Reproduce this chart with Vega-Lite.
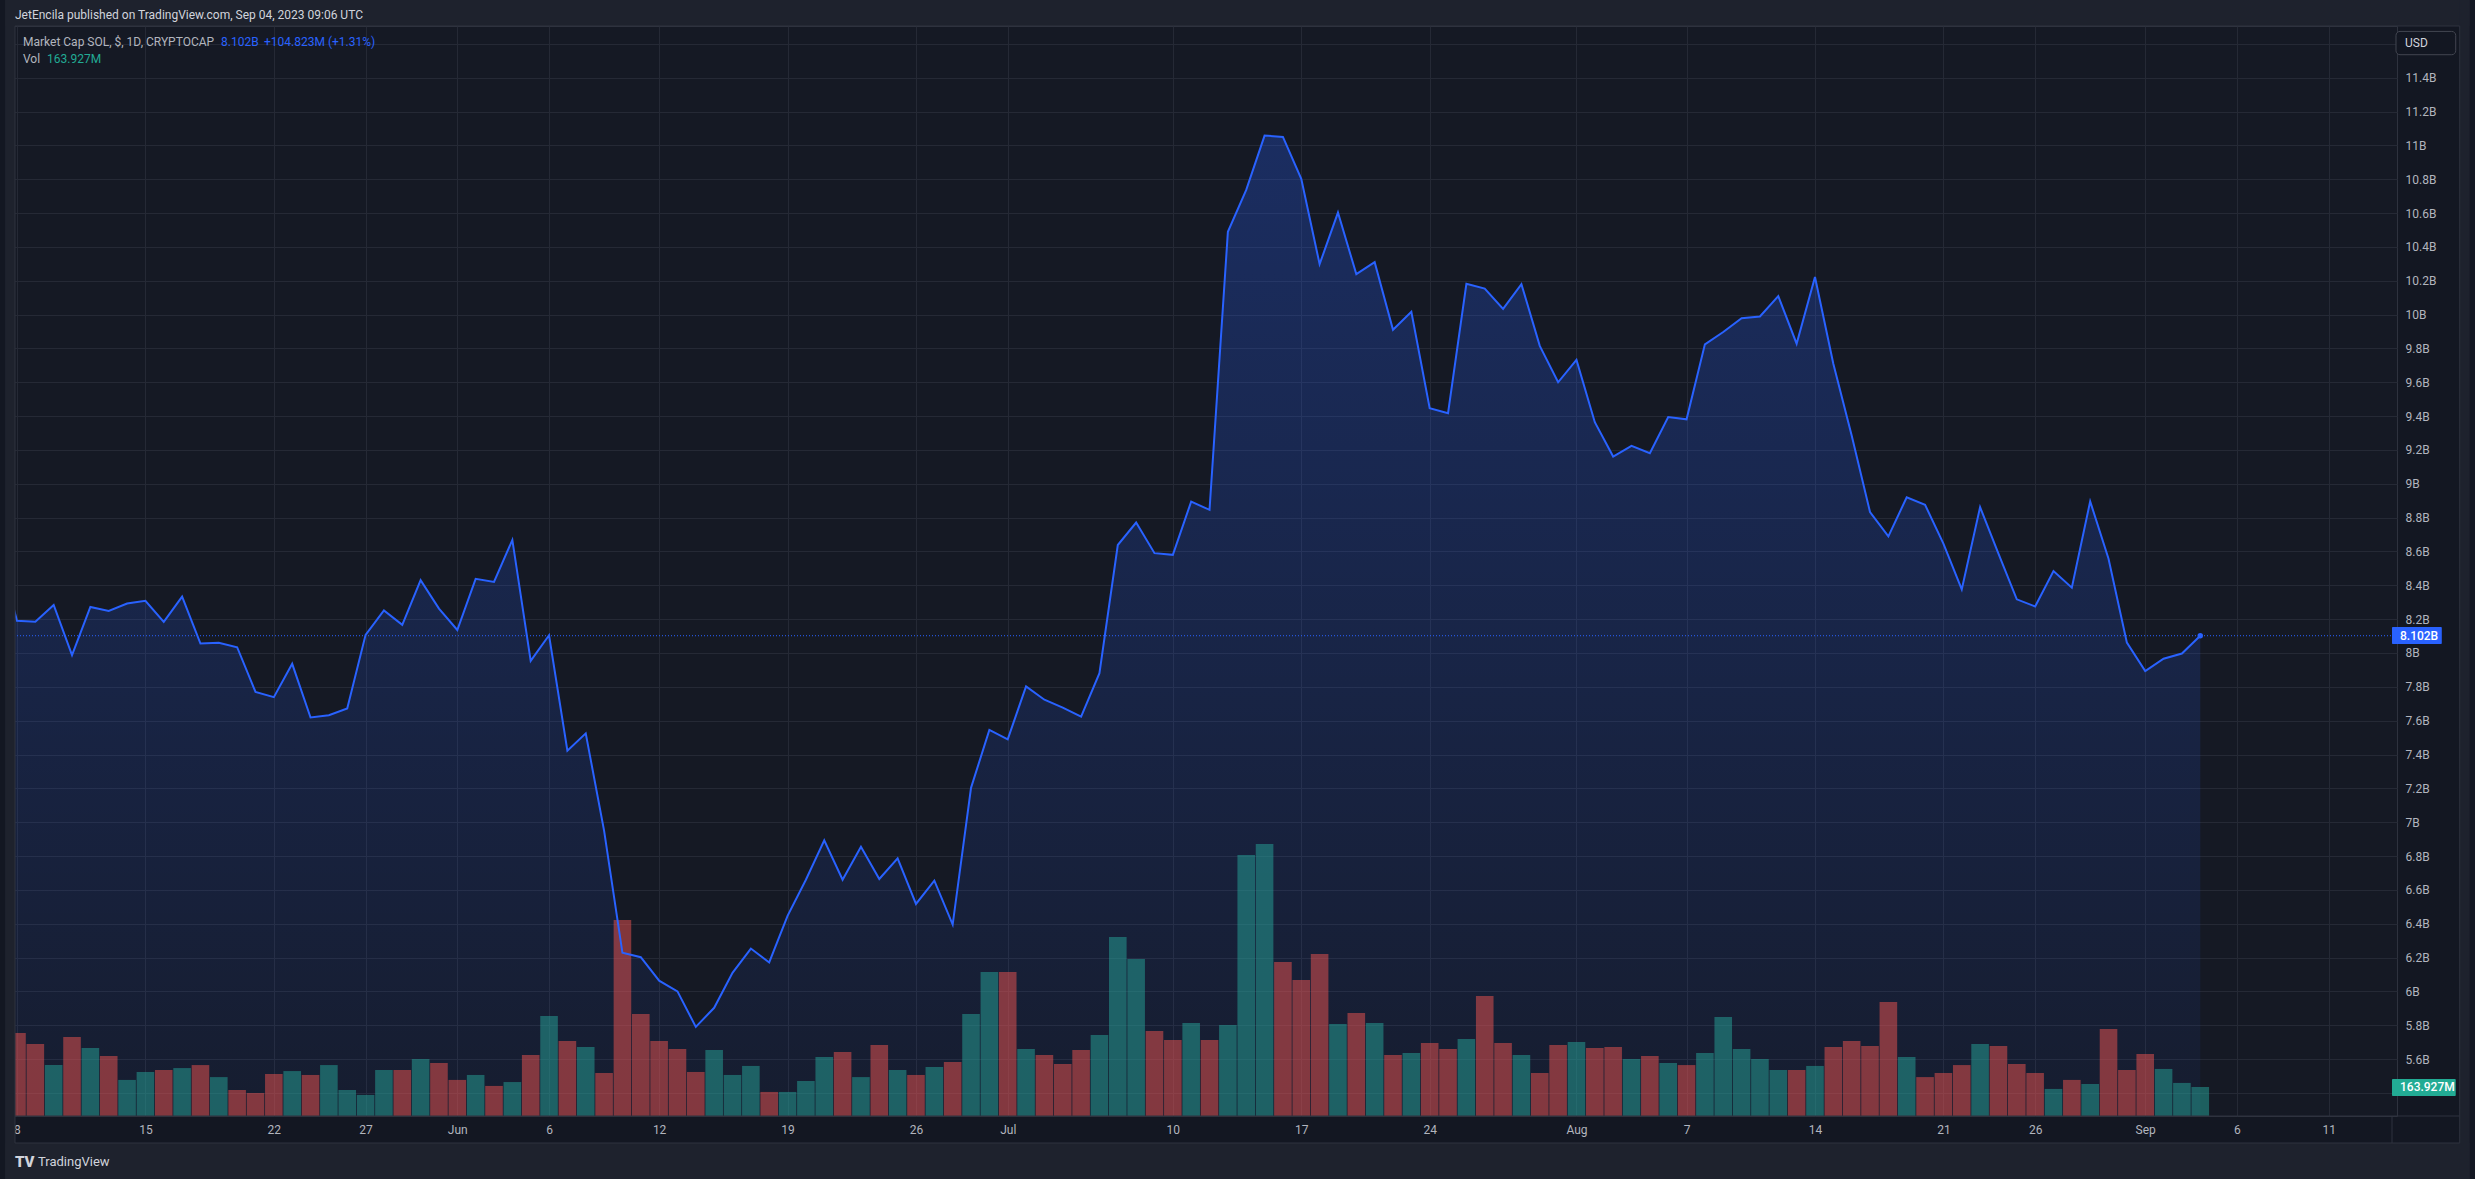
{
  "$schema": "https://vega.github.io/schema/vega-lite/v6.json",
  "width": 2387,
  "height": 1090,
  "autosize": "none",
  "padding": {"left": 10, "top": 26, "right": 78, "bottom": 63},
  "background": "#131722",
  "config": {
    "font": "Roboto",
    "view": {"fill": "#151924", "stroke": "#2e323e", "strokeWidth": 1}
  },
  "data": {
    "values": [
      {"date": "2023-05-07", "mc": 8.6, "vol": 400, "dir": "down"},
      {"date": "2023-05-08", "mc": 8.19, "vol": 469, "dir": "down"},
      {"date": "2023-05-09", "mc": 8.184, "vol": 407, "dir": "down"},
      {"date": "2023-05-10", "mc": 8.284, "vol": 288, "dir": "up"},
      {"date": "2023-05-11", "mc": 7.987, "vol": 447, "dir": "down"},
      {"date": "2023-05-12", "mc": 8.272, "vol": 384, "dir": "up"},
      {"date": "2023-05-13", "mc": 8.249, "vol": 339, "dir": "down"},
      {"date": "2023-05-14", "mc": 8.292, "vol": 204, "dir": "up"},
      {"date": "2023-05-15", "mc": 8.308, "vol": 249, "dir": "up"},
      {"date": "2023-05-16", "mc": 8.184, "vol": 260, "dir": "down"},
      {"date": "2023-05-17", "mc": 8.333, "vol": 271, "dir": "up"},
      {"date": "2023-05-18", "mc": 8.056, "vol": 288, "dir": "down"},
      {"date": "2023-05-19", "mc": 8.06, "vol": 220, "dir": "up"},
      {"date": "2023-05-20", "mc": 8.034, "vol": 147, "dir": "down"},
      {"date": "2023-05-21", "mc": 7.77, "vol": 130, "dir": "down"},
      {"date": "2023-05-22", "mc": 7.739, "vol": 237, "dir": "down"},
      {"date": "2023-05-23", "mc": 7.936, "vol": 254, "dir": "up"},
      {"date": "2023-05-24", "mc": 7.619, "vol": 232, "dir": "down"},
      {"date": "2023-05-25", "mc": 7.632, "vol": 288, "dir": "up"},
      {"date": "2023-05-26", "mc": 7.672, "vol": 147, "dir": "up"},
      {"date": "2023-05-27", "mc": 8.107, "vol": 119, "dir": "up"},
      {"date": "2023-05-28", "mc": 8.251, "vol": 260, "dir": "up"},
      {"date": "2023-05-29", "mc": 8.166, "vol": 260, "dir": "down"},
      {"date": "2023-05-30", "mc": 8.43, "vol": 322, "dir": "up"},
      {"date": "2023-05-31", "mc": 8.262, "vol": 300, "dir": "down"},
      {"date": "2023-06-01", "mc": 8.136, "vol": 204, "dir": "down"},
      {"date": "2023-06-02", "mc": 8.438, "vol": 232, "dir": "up"},
      {"date": "2023-06-03", "mc": 8.42, "vol": 170, "dir": "down"},
      {"date": "2023-06-04", "mc": 8.668, "vol": 192, "dir": "up"},
      {"date": "2023-06-05", "mc": 7.953, "vol": 345, "dir": "down"},
      {"date": "2023-06-06", "mc": 8.105, "vol": 565, "dir": "up"},
      {"date": "2023-06-07", "mc": 7.423, "vol": 424, "dir": "down"},
      {"date": "2023-06-08", "mc": 7.525, "vol": 390, "dir": "up"},
      {"date": "2023-06-09", "mc": 6.95, "vol": 243, "dir": "down"},
      {"date": "2023-06-10", "mc": 6.228, "vol": 1108, "dir": "down"},
      {"date": "2023-06-11", "mc": 6.202, "vol": 577, "dir": "down"},
      {"date": "2023-06-12", "mc": 6.063, "vol": 424, "dir": "down"},
      {"date": "2023-06-13", "mc": 6.0, "vol": 379, "dir": "down"},
      {"date": "2023-06-14", "mc": 5.79, "vol": 249, "dir": "down"},
      {"date": "2023-06-15", "mc": 5.903, "vol": 373, "dir": "up"},
      {"date": "2023-06-16", "mc": 6.11, "vol": 232, "dir": "up"},
      {"date": "2023-06-17", "mc": 6.253, "vol": 283, "dir": "up"},
      {"date": "2023-06-18", "mc": 6.171, "vol": 136, "dir": "down"},
      {"date": "2023-06-19", "mc": 6.446, "vol": 136, "dir": "up"},
      {"date": "2023-06-20", "mc": 6.66, "vol": 198, "dir": "up"},
      {"date": "2023-06-21", "mc": 6.893, "vol": 334, "dir": "up"},
      {"date": "2023-06-22", "mc": 6.66, "vol": 362, "dir": "down"},
      {"date": "2023-06-23", "mc": 6.855, "vol": 220, "dir": "up"},
      {"date": "2023-06-24", "mc": 6.664, "vol": 401, "dir": "down"},
      {"date": "2023-06-25", "mc": 6.786, "vol": 260, "dir": "up"},
      {"date": "2023-06-26", "mc": 6.517, "vol": 232, "dir": "down"},
      {"date": "2023-06-27", "mc": 6.654, "vol": 277, "dir": "up"},
      {"date": "2023-06-28", "mc": 6.395, "vol": 305, "dir": "down"},
      {"date": "2023-06-29", "mc": 7.203, "vol": 577, "dir": "up"},
      {"date": "2023-06-30", "mc": 7.545, "vol": 814, "dir": "up"},
      {"date": "2023-07-01", "mc": 7.49, "vol": 814, "dir": "down"},
      {"date": "2023-07-02", "mc": 7.803, "vol": 379, "dir": "up"},
      {"date": "2023-07-03", "mc": 7.724, "vol": 345, "dir": "down"},
      {"date": "2023-07-04", "mc": 7.677, "vol": 294, "dir": "down"},
      {"date": "2023-07-05", "mc": 7.624, "vol": 373, "dir": "down"},
      {"date": "2023-07-06", "mc": 7.881, "vol": 458, "dir": "up"},
      {"date": "2023-07-07", "mc": 8.638, "vol": 1012, "dir": "up"},
      {"date": "2023-07-08", "mc": 8.771, "vol": 888, "dir": "up"},
      {"date": "2023-07-09", "mc": 8.59, "vol": 480, "dir": "down"},
      {"date": "2023-07-10", "mc": 8.58, "vol": 430, "dir": "down"},
      {"date": "2023-07-11", "mc": 8.895, "vol": 526, "dir": "up"},
      {"date": "2023-07-12", "mc": 8.846, "vol": 430, "dir": "down"},
      {"date": "2023-07-13", "mc": 10.489, "vol": 514, "dir": "up"},
      {"date": "2023-07-14", "mc": 10.737, "vol": 1475, "dir": "up"},
      {"date": "2023-07-15", "mc": 11.058, "vol": 1538, "dir": "up"},
      {"date": "2023-07-16", "mc": 11.05, "vol": 871, "dir": "down"},
      {"date": "2023-07-17", "mc": 10.802, "vol": 769, "dir": "down"},
      {"date": "2023-07-18", "mc": 10.298, "vol": 916, "dir": "down"},
      {"date": "2023-07-19", "mc": 10.603, "vol": 520, "dir": "up"},
      {"date": "2023-07-20", "mc": 10.239, "vol": 582, "dir": "down"},
      {"date": "2023-07-21", "mc": 10.31, "vol": 526, "dir": "up"},
      {"date": "2023-07-22", "mc": 9.91, "vol": 345, "dir": "down"},
      {"date": "2023-07-23", "mc": 10.016, "vol": 356, "dir": "up"},
      {"date": "2023-07-24", "mc": 9.447, "vol": 413, "dir": "down"},
      {"date": "2023-07-25", "mc": 9.417, "vol": 379, "dir": "down"},
      {"date": "2023-07-26", "mc": 10.182, "vol": 435, "dir": "up"},
      {"date": "2023-07-27", "mc": 10.154, "vol": 678, "dir": "down"},
      {"date": "2023-07-28", "mc": 10.034, "vol": 413, "dir": "down"},
      {"date": "2023-07-29", "mc": 10.18, "vol": 345, "dir": "up"},
      {"date": "2023-07-30", "mc": 9.815, "vol": 243, "dir": "down"},
      {"date": "2023-07-31", "mc": 9.6, "vol": 401, "dir": "down"},
      {"date": "2023-08-01", "mc": 9.732, "vol": 418, "dir": "up"},
      {"date": "2023-08-02", "mc": 9.364, "vol": 384, "dir": "down"},
      {"date": "2023-08-03", "mc": 9.161, "vol": 390, "dir": "down"},
      {"date": "2023-08-04", "mc": 9.224, "vol": 322, "dir": "up"},
      {"date": "2023-08-05", "mc": 9.181, "vol": 339, "dir": "down"},
      {"date": "2023-08-06", "mc": 9.394, "vol": 300, "dir": "up"},
      {"date": "2023-08-07", "mc": 9.381, "vol": 288, "dir": "down"},
      {"date": "2023-08-08", "mc": 9.824, "vol": 356, "dir": "up"},
      {"date": "2023-08-09", "mc": 9.897, "vol": 560, "dir": "up"},
      {"date": "2023-08-10", "mc": 9.979, "vol": 379, "dir": "up"},
      {"date": "2023-08-11", "mc": 9.989, "vol": 322, "dir": "up"},
      {"date": "2023-08-12", "mc": 10.109, "vol": 260, "dir": "up"},
      {"date": "2023-08-13", "mc": 9.828, "vol": 260, "dir": "down"},
      {"date": "2023-08-14", "mc": 10.222, "vol": 283, "dir": "up"},
      {"date": "2023-08-15", "mc": 9.709, "vol": 390, "dir": "down"},
      {"date": "2023-08-16", "mc": 9.286, "vol": 424, "dir": "down"},
      {"date": "2023-08-17", "mc": 8.833, "vol": 396, "dir": "down"},
      {"date": "2023-08-18", "mc": 8.689, "vol": 644, "dir": "down"},
      {"date": "2023-08-19", "mc": 8.92, "vol": 334, "dir": "up"},
      {"date": "2023-08-20", "mc": 8.876, "vol": 220, "dir": "down"},
      {"date": "2023-08-21", "mc": 8.646, "vol": 243, "dir": "down"},
      {"date": "2023-08-22", "mc": 8.376, "vol": 288, "dir": "down"},
      {"date": "2023-08-23", "mc": 8.862, "vol": 407, "dir": "up"},
      {"date": "2023-08-24", "mc": 8.587, "vol": 396, "dir": "down"},
      {"date": "2023-08-25", "mc": 8.317, "vol": 294, "dir": "down"},
      {"date": "2023-08-26", "mc": 8.275, "vol": 243, "dir": "down"},
      {"date": "2023-08-27", "mc": 8.484, "vol": 153, "dir": "up"},
      {"date": "2023-08-28", "mc": 8.386, "vol": 204, "dir": "down"},
      {"date": "2023-08-29", "mc": 8.896, "vol": 181, "dir": "up"},
      {"date": "2023-08-30", "mc": 8.557, "vol": 492, "dir": "down"},
      {"date": "2023-08-31", "mc": 8.061, "vol": 260, "dir": "down"},
      {"date": "2023-09-01", "mc": 7.893, "vol": 350, "dir": "down"},
      {"date": "2023-09-02", "mc": 7.966, "vol": 266, "dir": "up"},
      {"date": "2023-09-03", "mc": 7.997, "vol": 187, "dir": "up"},
      {"date": "2023-09-04", "mc": 8.102, "vol": 163.927, "dir": "up"}
    ]
  },
  "layer": [
    {
      "mark": {
        "type": "area",
        "clip": true,
        "color": {
          "gradient": "linear",
          "x1": 0, "y1": 0, "x2": 0, "y2": 1,
          "stops": [
            {"offset": 0, "color": "rgba(41,98,255,0.28)"},
            {"offset": 1, "color": "rgba(41,98,255,0.05)"}
          ]
        }
      },
      "encoding": {
        "x": {
          "field": "date",
          "type": "temporal",
          "scale": {
            "type": "utc",
            "nice": false,
            "domain": [
              {"year": 2023, "month": 5, "date": 7, "hours": 21, "minutes": 24, "utc": true},
              {"year": 2023, "month": 9, "date": 14, "hours": 10, "minutes": 49, "utc": true}
            ]
          },
          "axis": {
            "title": null,
            "orient": "bottom",
            "domain": false,
            "ticks": false,
            "grid": true,
            "gridColor": "#252935",
            "gridWidth": 1,
            "labelColor": "#b2b5be",
            "labelFont": "Roboto",
            "labelFontSize": 12,
            "labelPadding": 8,
            "labelFlush": false,
            "labelOverlap": false,
            "values": [
              {"year": 2023, "month": 5, "date": 8, "utc": true},
              {"year": 2023, "month": 5, "date": 15, "utc": true},
              {"year": 2023, "month": 5, "date": 22, "utc": true},
              {"year": 2023, "month": 5, "date": 27, "utc": true},
              {"year": 2023, "month": 6, "date": 1, "utc": true},
              {"year": 2023, "month": 6, "date": 6, "utc": true},
              {"year": 2023, "month": 6, "date": 12, "utc": true},
              {"year": 2023, "month": 6, "date": 19, "utc": true},
              {"year": 2023, "month": 6, "date": 26, "utc": true},
              {"year": 2023, "month": 7, "date": 1, "utc": true},
              {"year": 2023, "month": 7, "date": 10, "utc": true},
              {"year": 2023, "month": 7, "date": 17, "utc": true},
              {"year": 2023, "month": 7, "date": 24, "utc": true},
              {"year": 2023, "month": 8, "date": 1, "utc": true},
              {"year": 2023, "month": 8, "date": 7, "utc": true},
              {"year": 2023, "month": 8, "date": 14, "utc": true},
              {"year": 2023, "month": 8, "date": 21, "utc": true},
              {"year": 2023, "month": 8, "date": 26, "utc": true},
              {"year": 2023, "month": 9, "date": 1, "utc": true},
              {"year": 2023, "month": 9, "date": 6, "utc": true},
              {"year": 2023, "month": 9, "date": 11, "utc": true}
            ],
            "labelExpr": "utcdate(datum.value) === 1 ? utcFormat(datum.value, '%b') : utcFormat(datum.value, '%-d')"
          }
        },
        "y": {
          "field": "mc",
          "type": "quantitative",
          "scale": {"domain": [5.2635, 11.7056], "nice": false, "zero": false},
          "axis": {
            "orient": "right",
            "title": null,
            "domain": false,
            "ticks": false,
            "grid": true,
            "gridColor": "#252935",
            "gridWidth": 1,
            "labelColor": "#b2b5be",
            "labelFont": "Roboto",
            "labelFontSize": 12,
            "labelPadding": 8,
            "labelFlush": false,
            "labelOverlap": false,
            "labelBaseline": "middle",
            "values": [5.4, 5.6, 5.8, 6, 6.2, 6.4, 6.6, 6.8, 7, 7.2, 7.4, 7.6, 7.8, 8, 8.2, 8.4, 8.6, 8.8, 9, 9.2, 9.4, 9.6, 9.8, 10, 10.2, 10.4, 10.6, 10.8, 11, 11.2, 11.4, 11.6],
            "labelExpr": "datum.value < 5.5 || datum.value > 11.5 ? '' : replace(format(datum.value, '.1f'), '.0', '') + 'B'"
          }
        },
        "y2": {"datum": 5.2635}
      }
    },
    {
      "layer": [
        {
          "mark": {"type": "bar", "size": 17.6, "clip": true},
          "encoding": {
            "x": {"field": "date", "type": "temporal"},
            "y": {
              "field": "vol",
              "type": "quantitative",
              "scale": {"domain": [0, 6162], "nice": false, "zero": true},
              "axis": null
            },
            "color": {
              "field": "dir",
              "type": "nominal",
              "scale": {"domain": ["up", "down"], "range": ["rgba(38,166,154,0.5)", "rgba(239,83,80,0.5)"]},
              "legend": null
            }
          }
        },
        {
          "data": {"values": [{}]},
          "mark": {"type": "rect", "color": "#22ab94", "clip": false, "cornerRadius": 1},
          "encoding": {
            "x": {"datum": {"year": 2023, "month": 9, "date": 14, "hours": 10, "minutes": 49, "utc": true}, "type": "temporal"},
            "x2": {"datum": {"year": 2023, "month": 9, "date": 17, "hours": 22, "minutes": 11, "utc": true}},
            "y": {"datum": 209, "type": "quantitative", "axis": null},
            "y2": {"datum": 113}
          }
        },
        {
          "data": {"values": [{}]},
          "mark": {"type": "text", "text": "163.927M", "color": "#ffffff", "font": "Roboto", "fontSize": 12, "fontWeight": 500, "align": "left", "baseline": "middle", "dx": 8, "clip": false},
          "encoding": {
            "x": {"datum": {"year": 2023, "month": 9, "date": 14, "hours": 10, "minutes": 49, "utc": true}, "type": "temporal"},
            "y": {"datum": 163.927, "type": "quantitative", "axis": null}
          }
        }
      ]
    },
    {
      "layer": [
        {
          "data": {"values": [{}]},
          "mark": {"type": "rule", "color": "#2962ff", "strokeDash": [1, 2], "strokeWidth": 1},
          "encoding": {
            "y": {"datum": 8.102, "type": "quantitative", "axis": null}
          }
        },
        {
          "mark": {"type": "line", "color": "#2962ff", "strokeWidth": 2, "clip": true},
          "encoding": {
            "x": {"field": "date", "type": "temporal"},
            "y": {
              "field": "mc",
              "type": "quantitative",
              "scale": {"domain": [5.2635, 11.7056], "nice": false, "zero": false},
              "axis": null
            }
          }
        },
        {
          "data": {"values": [{"date": "2023-09-04", "mc": 8.102}]},
          "mark": {"type": "circle", "color": "#2962ff", "size": 30, "opacity": 1},
          "encoding": {
            "x": {"field": "date", "type": "temporal"},
            "y": {"field": "mc", "type": "quantitative", "axis": null}
          }
        },
        {
          "data": {"values": [{}]},
          "mark": {"type": "rect", "color": "#2962ff", "clip": false, "cornerRadius": 1},
          "encoding": {
            "x": {"datum": {"year": 2023, "month": 9, "date": 14, "hours": 10, "minutes": 49, "utc": true}, "type": "temporal"},
            "x2": {"datum": {"year": 2023, "month": 9, "date": 17, "hours": 3, "minutes": 57, "utc": true}},
            "y": {"datum": 8.1535, "type": "quantitative", "axis": null},
            "y2": {"datum": 8.0531}
          }
        },
        {
          "data": {"values": [{}]},
          "mark": {"type": "text", "text": "8.102B", "color": "#ffffff", "font": "Roboto", "fontSize": 12, "fontWeight": 500, "align": "left", "baseline": "middle", "dx": 8, "clip": false},
          "encoding": {
            "x": {"datum": {"year": 2023, "month": 9, "date": 14, "hours": 10, "minutes": 49, "utc": true}, "type": "temporal"},
            "y": {"datum": 8.102, "type": "quantitative", "axis": null}
          }
        },
        {
          "data": {"values": [{}]},
          "mark": {"type": "rect", "color": "#1e222d", "clip": false},
          "encoding": {
            "x": {"datum": {"year": 2023, "month": 5, "date": 7, "hours": 8, "minutes": 22, "utc": true}, "type": "temporal"},
            "x2": {"datum": {"year": 2023, "month": 9, "date": 18, "hours": 16, "minutes": 25, "utc": true}},
            "y": {"datum": 11.8592, "type": "quantitative", "axis": null},
            "y2": {"datum": 11.7056}
          }
        },
        {
          "data": {"values": [{}]},
          "mark": {"type": "rect", "color": "#1e222d", "clip": false},
          "encoding": {
            "x": {"datum": {"year": 2023, "month": 5, "date": 7, "hours": 8, "minutes": 22, "utc": true}, "type": "temporal"},
            "x2": {"datum": {"year": 2023, "month": 5, "date": 7, "hours": 21, "minutes": 24, "utc": true}},
            "y": {"datum": 11.8592, "type": "quantitative", "axis": null},
            "y2": {"datum": 4.8911}
          }
        },
        {
          "data": {"values": [{}]},
          "mark": {"type": "rect", "color": "#1e222d", "clip": false},
          "encoding": {
            "x": {"datum": {"year": 2023, "month": 9, "date": 18, "hours": 3, "minutes": 24, "utc": true}, "type": "temporal"},
            "x2": {"datum": {"year": 2023, "month": 9, "date": 18, "hours": 16, "minutes": 25, "utc": true}},
            "y": {"datum": 11.8592, "type": "quantitative", "axis": null},
            "y2": {"datum": 4.8911}
          }
        },
        {
          "data": {"values": [{}]},
          "mark": {"type": "rect", "color": "#1e222d", "clip": false},
          "encoding": {
            "x": {"datum": {"year": 2023, "month": 5, "date": 7, "hours": 8, "minutes": 22, "utc": true}, "type": "temporal"},
            "x2": {"datum": {"year": 2023, "month": 9, "date": 18, "hours": 16, "minutes": 25, "utc": true}},
            "y": {"datum": 5.1039, "type": "quantitative", "axis": null},
            "y2": {"datum": 4.8911}
          }
        },
        {
          "data": {"values": [{}]},
          "mark": {"type": "rect", "fillOpacity": 0, "stroke": "#2e323e", "strokeWidth": 1, "clip": false},
          "encoding": {
            "x": {"datum": {"year": 2023, "month": 5, "date": 7, "hours": 21, "minutes": 24, "utc": true}, "type": "temporal"},
            "x2": {"datum": {"year": 2023, "month": 9, "date": 18, "hours": 3, "minutes": 24, "utc": true}},
            "y": {"datum": 11.7056, "type": "quantitative", "axis": null},
            "y2": {"datum": 5.1039}
          }
        },
        {
          "data": {"values": [{}]},
          "mark": {"type": "rule", "color": "#2e323e", "strokeWidth": 1, "clip": false},
          "encoding": {
            "x": {"datum": {"year": 2023, "month": 5, "date": 7, "hours": 21, "minutes": 24, "utc": true}, "type": "temporal"},
            "x2": {"datum": {"year": 2023, "month": 9, "date": 18, "hours": 3, "minutes": 24, "utc": true}},
            "y": {"datum": 5.2635, "type": "quantitative", "axis": null}
          }
        },
        {
          "data": {"values": [{}]},
          "mark": {"type": "rule", "color": "#2e323e", "strokeWidth": 1, "clip": false},
          "encoding": {
            "x": {"datum": {"year": 2023, "month": 9, "date": 14, "hours": 10, "minutes": 49, "utc": true}, "type": "temporal"},
            "y": {"datum": 5.2635, "type": "quantitative", "axis": null},
            "y2": {"datum": 5.1039}
          }
        },
        {
          "data": {"values": [{}]},
          "mark": {"type": "rect", "fill": "#131722", "stroke": "#434651", "strokeWidth": 1, "cornerRadius": 4, "clip": false},
          "encoding": {
            "x": {"datum": {"year": 2023, "month": 9, "date": 14, "hours": 16, "minutes": 2, "utc": true}, "type": "temporal"},
            "x2": {"datum": {"year": 2023, "month": 9, "date": 17, "hours": 22, "minutes": 11, "utc": true}},
            "y": {"datum": 11.6736, "type": "quantitative", "axis": null},
            "y2": {"datum": 11.5359}
          }
        },
        {
          "data": {"values": [{}]},
          "mark": {"type": "text", "text": "USD", "color": "#d1d4dc", "font": "Roboto", "fontSize": 12, "align": "left", "baseline": "middle", "dx": 13, "clip": false},
          "encoding": {
            "x": {"datum": {"year": 2023, "month": 9, "date": 14, "hours": 10, "minutes": 49, "utc": true}, "type": "temporal"},
            "y": {"datum": 11.605, "type": "quantitative", "axis": null}
          }
        },
        {
          "data": {"values": [{}]},
          "mark": {"type": "text", "text": "JetEncila published on TradingView.com, Sep 04, 2023 09:06 UTC", "color": "#d1d4dc", "font": "Roboto", "fontSize": 12, "align": "left", "baseline": "middle", "dx": 0, "clip": false},
          "encoding": {
            "x": {"datum": {"year": 2023, "month": 5, "date": 7, "hours": 21, "minutes": 24, "utc": true}, "type": "temporal"},
            "y": {"datum": 11.7706, "type": "quantitative", "axis": null}
          }
        },
        {
          "data": {"values": [{}]},
          "mark": {"type": "text", "text": "Market Cap SOL, $, 1D, CRYPTOCAP", "color": "#b2b5be", "font": "Roboto", "fontSize": 12, "align": "left", "baseline": "middle", "dx": 8, "clip": false},
          "encoding": {
            "x": {"datum": {"year": 2023, "month": 5, "date": 7, "hours": 21, "minutes": 24, "utc": true}, "type": "temporal"},
            "y": {"datum": 11.611, "type": "quantitative", "axis": null}
          }
        },
        {
          "data": {"values": [{}]},
          "mark": {"type": "text", "text": "8.102B", "color": "#2962ff", "font": "Roboto", "fontSize": 12, "align": "left", "baseline": "middle", "dx": 206, "clip": false},
          "encoding": {
            "x": {"datum": {"year": 2023, "month": 5, "date": 7, "hours": 21, "minutes": 24, "utc": true}, "type": "temporal"},
            "y": {"datum": 11.611, "type": "quantitative", "axis": null}
          }
        },
        {
          "data": {"values": [{}]},
          "mark": {"type": "text", "text": "+104.823M (+1.31%)", "color": "#2962ff", "font": "Roboto", "fontSize": 12, "align": "left", "baseline": "middle", "dx": 249, "clip": false},
          "encoding": {
            "x": {"datum": {"year": 2023, "month": 5, "date": 7, "hours": 21, "minutes": 24, "utc": true}, "type": "temporal"},
            "y": {"datum": 11.611, "type": "quantitative", "axis": null}
          }
        },
        {
          "data": {"values": [{}]},
          "mark": {"type": "text", "text": "Vol", "color": "#b2b5be", "font": "Roboto", "fontSize": 12, "align": "left", "baseline": "middle", "dx": 8, "clip": false},
          "encoding": {
            "x": {"datum": {"year": 2023, "month": 5, "date": 7, "hours": 21, "minutes": 24, "utc": true}, "type": "temporal"},
            "y": {"datum": 11.5105, "type": "quantitative", "axis": null}
          }
        },
        {
          "data": {"values": [{}]},
          "mark": {"type": "text", "text": "163.927M", "color": "#22ab94", "font": "Roboto", "fontSize": 12, "align": "left", "baseline": "middle", "dx": 32, "clip": false},
          "encoding": {
            "x": {"datum": {"year": 2023, "month": 5, "date": 7, "hours": 21, "minutes": 24, "utc": true}, "type": "temporal"},
            "y": {"datum": 11.5105, "type": "quantitative", "axis": null}
          }
        },
        {
          "data": {"values": [{}]},
          "mark": {"type": "text", "text": "TV", "color": "#d1d4dc", "font": "Roboto", "fontSize": 15, "fontWeight": 900, "align": "left", "baseline": "middle", "dx": 0, "clip": false},
          "encoding": {
            "x": {"datum": {"year": 2023, "month": 5, "date": 7, "hours": 21, "minutes": 24, "utc": true}, "type": "temporal"},
            "y": {"datum": 4.9916, "type": "quantitative", "axis": null}
          }
        },
        {
          "data": {"values": [{}]},
          "mark": {"type": "text", "text": "TradingView", "color": "#d1d4dc", "font": "Roboto", "fontSize": 13, "align": "left", "baseline": "middle", "dx": 23, "clip": false},
          "encoding": {
            "x": {"datum": {"year": 2023, "month": 5, "date": 7, "hours": 21, "minutes": 24, "utc": true}, "type": "temporal"},
            "y": {"datum": 4.9916, "type": "quantitative", "axis": null}
          }
        }
      ]
    }
  ],
  "resolve": {"scale": {"y": "independent"}}
}
